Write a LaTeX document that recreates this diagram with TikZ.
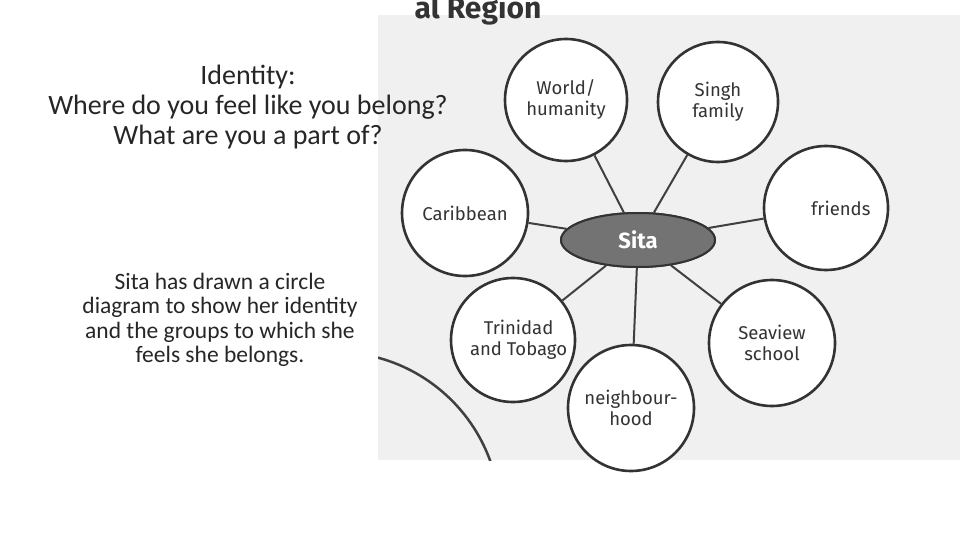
\documentclass[tikz,border=0pt]{standalone}
\usepackage{fontspec}
\setmainfont{Carlito}
\newfontfamily\scan{Fira Sans}
\usetikzlibrary{shapes.geometric}
\begin{document}
\begin{tikzpicture}[x=1pt,y=-1pt,
  grp/.style={circle,draw=black!80,line width=2.6pt,fill=white,font=\scan\fontsize{18.5}{21}\selectfont,text=black!80,align=center,inner sep=0pt},
  spoke/.style={draw=black!75,line width=2pt},
  sitastyle/.style={ellipse,draw=black!80,line width=2pt,fill=black!55,minimum width=154,minimum height=54,text=white,font=\scan\bfseries\fontsize{22}{22}\selectfont},
  slide/.style={font=\fontsize{28}{30}\selectfont,align=center,text=black!85}]
\useasboundingbox (0,0) rectangle (960,540);
\fill[black!6] (378,15) rectangle (960,460);
\begin{scope}
\clip (378,0) rectangle (960,460);
\draw[black!75,line width=2.5pt] (335,517) circle (165);
\node[font=\scan\bfseries\fontsize{30}{30}\selectfont,text=black!80] (hd) at (478,10) {al Region};
\end{scope}
\node[sitastyle] (sita) at (638,240) {Sita};
\node[grp,minimum size=122] (w) at (566,100) {World/\\humanity};
\node[grp,minimum size=120] (s) at (718,102) {Singh\\family};
\node[grp,minimum size=124] (f) at (826,208) {\hspace*{1.6em}friends};
\node[grp,minimum size=126] (c) at (465,213) {Caribbean};
\node[grp,minimum size=124] (t) at (513,340) {\hspace*{0.6em}Trinidad\\\hspace*{0.6em}and Tobago};
\node[grp,minimum size=126] (sv) at (772,343) {Seaview\\school};
\node[grp,minimum size=126] (n) at (631,408) {neighbour-\\hood};
\foreach \x in {w,s,f,c,t,sv,n} \draw[spoke] (sita) -- (\x);
\node[sitastyle] (sita2) at (638,240) {Sita};
\node[slide] (q) at (248,107) {Identity:\\Where do you feel like you belong?\\What are you a part of?};
\node[slide,font=\fontsize{23.5}{24.5}\selectfont] (d) at (220,320) {Sita has drawn a circle\\diagram to show her identity\\and the groups to which she\\feels she belongs.};
\end{tikzpicture}
\end{document}
